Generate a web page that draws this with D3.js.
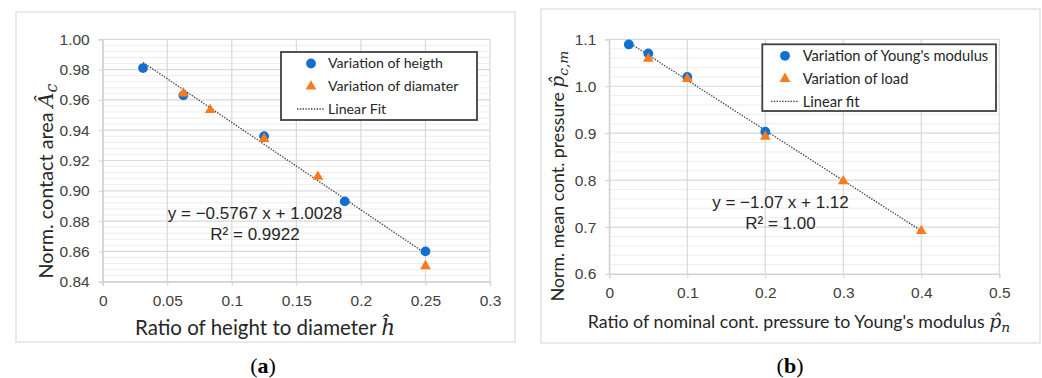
<!DOCTYPE html>
<html>
<head>
<meta charset="utf-8">
<script src="https://cdn.jsdelivr.net/npm/d3@7"></script>
<style>
  body { margin: 0; background: #fff; }
  svg { display: block; }
  .tick text { font-family: "Liberation Sans", Arial, sans-serif; font-size: 15.5px; fill: #404040; }
</style>
</head>
<body>
<div id="chart"></div>
<script>
// (a) variation of height / diameter
var heightX = [0.03125, 0.0625, 0.125, 0.1875, 0.25];
var heightY = [0.981, 0.963, 0.936, 0.893, 0.860];
var diamX = [0.0625, 0.0833, 0.125, 0.1667, 0.25];
var diamY = [0.965, 0.954, 0.935, 0.910, 0.851];
var fitA = {slope: -0.5767, icpt: 1.0028, from: 0.03125, to: 0.25};
var xTicksA = ["0", "0.05", "0.1", "0.15", "0.2", "0.25", "0.3"];
var yTicksA = ["0.84", "0.86", "0.88", "0.90", "0.92", "0.94", "0.96", "0.98", "1.00"];

// (b) variation of Young's modulus / load
var youngX = [0.025, 0.05, 0.1, 0.2];
var youngY = [1.089, 1.070, 1.020, 0.903];
var loadX = [0.05, 0.1, 0.2, 0.3, 0.4];
var loadY = [1.061, 1.018, 0.895, 0.800, 0.694];
var fitB = {slope: -1.07, icpt: 1.12, from: 0.025, to: 0.4};
var xTicksB = ["0", "0.1", "0.2", "0.3", "0.4", "0.5"];
var yTicksB = ["0.6", "0.7", "0.8", "0.9", "1.0", "1.1"];

var blue = "#1170cf", orange = "#fb7b1c";

var svg = d3.select("#chart").append("svg")
  .attr("width", 1042).attr("height", 378);

function drawPanel(cfg) {
  var g = svg.append("g");

  // outer frame
  g.append("rect")
    .attr("x", cfg.box[0]).attr("y", cfg.box[1])
    .attr("width", cfg.box[2]).attr("height", cfg.box[3])
    .attr("fill", "none").attr("stroke", "#e3e3e3").attr("stroke-width", 1.5);

  var xVals = cfg.xTicks.map(Number), yVals = cfg.yTicks.map(Number);
  var x = d3.scaleLinear().domain(d3.extent(xVals)).range([cfg.left, cfg.right]);
  var y = d3.scaleLinear().domain(d3.extent(yVals)).range([cfg.bottom, cfg.top]);

  // minor horizontal grid (5 per major step)
  var step = yVals[1] - yVals[0];
  var minor = [];
  for (var i = 0; i < yVals.length - 1; i++)
    for (var k = 1; k < 5; k++) minor.push(yVals[i] + step * k / 5);
  g.selectAll(".minor").data(minor).enter().append("line")
    .attr("x1", cfg.left).attr("x2", cfg.right)
    .attr("y1", function(d) { return y(d); }).attr("y2", function(d) { return y(d); })
    .attr("stroke", "#ededed").attr("stroke-width", 1);

  // major grid
  g.selectAll(".hg").data(yVals).enter().append("line")
    .attr("x1", cfg.left).attr("x2", cfg.right)
    .attr("y1", function(d) { return y(d); }).attr("y2", function(d) { return y(d); })
    .attr("stroke", "#d9d9d9").attr("stroke-width", 1.2);
  g.selectAll(".vg").data(xVals).enter().append("line")
    .attr("y1", cfg.top).attr("y2", cfg.bottom)
    .attr("x1", function(d) { return x(d); }).attr("x2", function(d) { return x(d); })
    .attr("stroke", "#d9d9d9").attr("stroke-width", 1.2);

  // axes
  var xAxis = g.append("g")
    .attr("transform", "translate(0," + cfg.bottom + ")")
    .call(d3.axisBottom(x).tickValues(xVals).tickSize(4).tickPadding(cfg.xPad)
      .tickFormat(function(d, i) { return cfg.xTicks[i]; }));
  var yAxis = g.append("g")
    .attr("transform", "translate(" + cfg.left + ",0)")
    .call(d3.axisLeft(y).tickValues(yVals).tickSize(4).tickPadding(cfg.yPad)
      .tickFormat(function(d, i) { return cfg.yTicks[i]; }));
  [xAxis, yAxis].forEach(function(a) {
    a.select(".domain").attr("stroke", "#d0d0d0").attr("stroke-width", 1.2);
    a.selectAll(".tick line").attr("stroke", "#d0d0d0");
  });

  // fit line
  g.append("line")
    .attr("x1", x(cfg.fit.from)).attr("y1", y(cfg.fit.slope * cfg.fit.from + cfg.fit.icpt))
    .attr("x2", x(cfg.fit.to)).attr("y2", y(cfg.fit.slope * cfg.fit.to + cfg.fit.icpt))
    .attr("stroke", "#404040").attr("stroke-width", 1.3).attr("stroke-dasharray", "1.4,1.4");

  // circles
  g.selectAll(".c").data(cfg.cx).enter().append("circle")
    .attr("cx", function(d) { return x(d); })
    .attr("cy", function(d, i) { return y(cfg.cy[i]); })
    .attr("r", 4.9).attr("fill", blue);

  // triangles
  var tri = d3.symbol().type(d3.symbolTriangle).size(50);
  g.selectAll(".t").data(cfg.tx).enter().append("path")
    .attr("d", tri)
    .attr("transform", function(d, i) { return "translate(" + x(d) + "," + (y(cfg.ty[i]) + 1) + ")"; })
    .attr("fill", orange);

  // legend
  var L = cfg.legend;
  g.append("rect").attr("x", L.x).attr("y", L.y).attr("width", L.w).attr("height", L.h)
    .attr("fill", "#fff").attr("stroke", "#404040").attr("stroke-width", 1.8);
  g.append("circle").attr("cx", L.mx).attr("cy", L.y + 11.5).attr("r", 4.9).attr("fill", blue);
  g.append("path").attr("d", tri)
    .attr("transform", "translate(" + L.mx + "," + (L.y + 34.5) + ")").attr("fill", orange);
  g.append("line").attr("x1", L.mx - 14).attr("x2", L.mx + 13)
    .attr("y1", L.y + 57).attr("y2", L.y + 57)
    .attr("stroke", "#404040").attr("stroke-width", 1.3).attr("stroke-dasharray", "1.4,1.4");
  L.labels.forEach(function(t, i) {
    g.append("text").attr("x", L.tx).attr("y", L.y + 11.5 + i * 22.8)
      .attr("dy", "0.35em")
      .style("font-family", "Lato, 'Open Sans', sans-serif").style("font-size", L.fs + "px")
      .style("fill", "#262626").text(t);
  });

  // equation
  cfg.eq.lines.forEach(function(t, i) {
    g.append("text").attr("x", cfg.eq.x).attr("y", cfg.eq.y + i * 21)
      .attr("text-anchor", "middle").attr("dy", "0.35em")
      .style("font-family", "'Liberation Sans', Arial, sans-serif").style("font-size", "17px")
      .style("fill", "#262626").text(t);
  });

  // axis titles
  var xt = g.append("text").attr("x", cfg.xTitle.x).attr("y", cfg.xTitle.y)
    .attr("text-anchor", "middle")
    .style("font-family", "Lato, sans-serif").style("font-size", cfg.xTitle.fs + "px")
    .style("fill", "#262626");
  xt.append("tspan").text(cfg.xTitle.text);
  xt.append("tspan").style("font-family", "'DejaVu Serif', serif").style("font-style", "italic")
    .style("font-size", (cfg.xTitle.fs + 1) + "px").text(cfg.xTitle.sym);
  if (cfg.xTitle.sub)
    xt.append("tspan").attr("dy", 4).style("font-family", "'DejaVu Serif', serif")
      .style("font-style", "italic").style("font-size", (cfg.xTitle.fs - 4) + "px").text(cfg.xTitle.sub);

  var yt = g.append("text")
    .attr("transform", "translate(" + cfg.yTitle.x + "," + cfg.yTitle.y + ") rotate(-90)")
    .attr("text-anchor", "middle")
    .style("font-family", "Lato, sans-serif").style("font-size", cfg.yTitle.fs + "px")
    .style("fill", "#262626");
  yt.append("tspan").text(cfg.yTitle.text);
  yt.append("tspan").style("font-family", "'DejaVu Serif', serif").style("font-style", "italic")
    .style("font-size", (cfg.yTitle.fs + 1) + "px").text(cfg.yTitle.sym);
  yt.append("tspan").attr("dy", 4).style("font-family", "'DejaVu Serif', serif")
    .style("font-style", "italic").style("font-size", (cfg.yTitle.fs - 4) + "px").text(cfg.yTitle.sub);

  // caption
  var cap = g.append("text").attr("x", cfg.cap.x).attr("y", cfg.cap.y)
    .attr("text-anchor", "middle").attr("dy", "0.35em")
    .style("font-family", "'Liberation Serif', 'Times New Roman', serif").style("font-size", "22px")
    .style("fill", "#000");
  cap.append("tspan").text("(");
  cap.append("tspan").style("font-weight", "bold").text(cfg.cap.letter);
  cap.append("tspan").text(")");
}

drawPanel({
  box: [16, 12, 499, 330],
  left: 102.7, right: 490, top: 39.3, bottom: 281.7,
  xTicks: xTicksA, yTicks: yTicksA, xPad: 9, yPad: 9,
  cx: heightX, cy: heightY, tx: diamX, ty: diamY, fit: fitA,
  legend: {x: 281, y: 52, w: 196, h: 68, mx: 311, tx: 328, fs: 14.2,
    labels: ["Variation of heigth", "Variation of diamater", "Linear Fit"]},
  eq: {x: 255, y: 213, lines: ["y = \u22120.5767 x + 1.0028", "R\u00b2 = 0.9922"]},
  xTitle: {x: 265, y: 335, fs: 20.5, text: "Ratio of height to diameter ", sym: "h\u0302"},
  yTitle: {x: 53, y: 181, fs: 19.8, text: "Norm. contact area ", sym: "A\u0302", sub: "c"},
  cap: {x: 263, y: 365, letter: "a"}
});

drawPanel({
  box: [541, 9, 499, 334],
  left: 609.3, right: 999.3, top: 39.3, bottom: 274,
  xTicks: xTicksB, yTicks: yTicksB, xPad: 9, yPad: 9,
  cx: youngX, cy: youngY, tx: loadX, ty: loadY, fit: fitB,
  legend: {x: 762.3, y: 44.3, w: 233.7, h: 66.7, mx: 785, tx: 802.7, fs: 14.7,
    labels: ["Variation of Young's modulus", "Variation of load", "Linear fit"]},
  eq: {x: 780.5, y: 201.7, lines: ["y = \u22121.07 x + 1.12", "R\u00b2 = 1.00"]},
  xTitle: {x: 799, y: 327.5, fs: 17.8, text: "Ratio of nominal cont. pressure to Young's modulus ", sym: "p\u0302", sub: "n"},
  yTitle: {x: 564, y: 176, fs: 17.7, text: "Norm. mean cont. pressure ", sym: "p\u0302", sub: "c,m"},
  cap: {x: 790, y: 365, letter: "b"}
});
</script>
</body>
</html>
